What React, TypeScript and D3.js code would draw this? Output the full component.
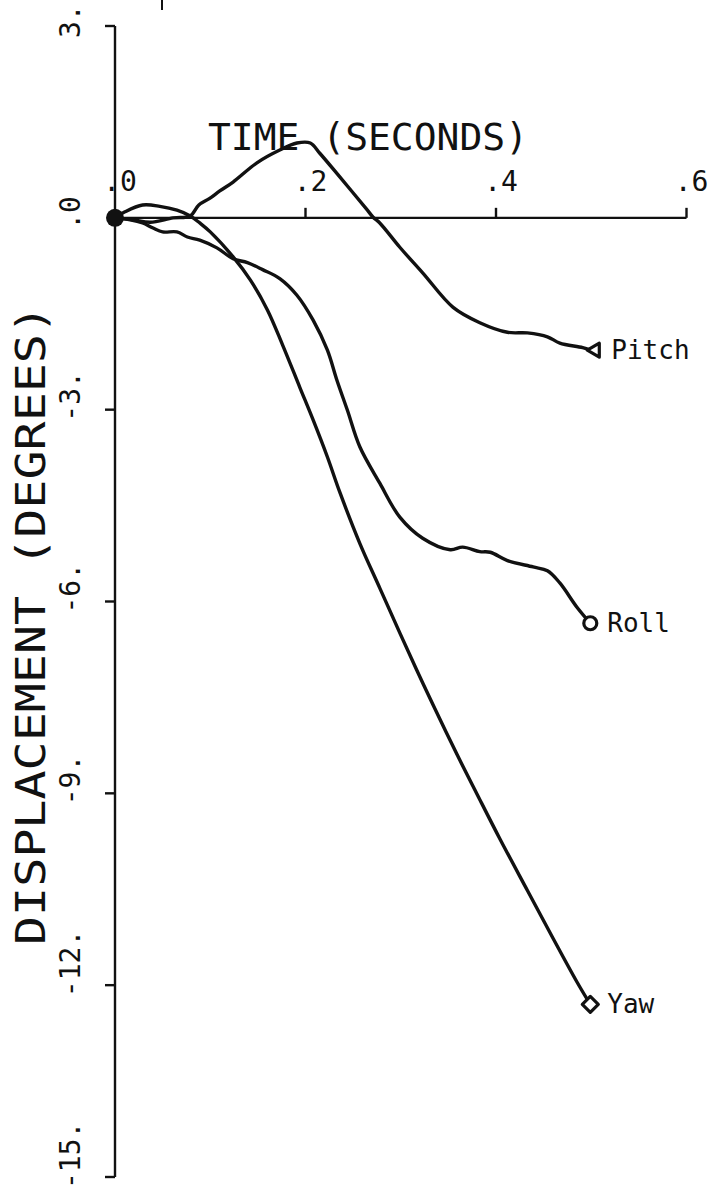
import React from "react";
import * as d3 from "d3";

const W = 712;
const H = 1195;

const xTicks = [0, 0.2, 0.4, 0.6];
const xTickLabels = [".0", ".2", ".4", ".6"];
const yTicks = [3, 0, -3, -6, -9, -12, -15];
const yTickLabels = ["3.", ".0", "-3.", "-6.", "-9.", "-12.", "-15."];

const pitchT = [0, 0.019, 0.037, 0.061, 0.079, 0.088, 0.099, 0.11, 0.124, 0.149, 0.173, 0.191, 0.205, 0.215, 0.236, 0.265, 0.271, 0.278, 0.299, 0.323, 0.355, 0.383, 0.412, 0.433, 0.454, 0.467, 0.491, 0.499];
const pitchV = [0, -0.03, -0.07, 0, 0.03, 0.2, 0.3, 0.42, 0.56, 0.86, 1.06, 1.17, 1.17, 1.01, 0.64, 0.12, 0.01, -0.08, -0.46, -0.86, -1.4, -1.64, -1.79, -1.8, -1.86, -1.96, -2.03, -2.07];

const rollT = [0, 0.016, 0.029, 0.04, 0.05, 0.065, 0.076, 0.089, 0.107, 0.124, 0.139, 0.155, 0.173, 0.191, 0.208, 0.223, 0.233, 0.244, 0.257, 0.278, 0.299, 0.323, 0.352, 0.365, 0.383, 0.394, 0.412, 0.439, 0.454, 0.467, 0.485, 0.499];
const rollV = [0, -0.03, -0.08, -0.16, -0.22, -0.22, -0.3, -0.35, -0.47, -0.64, -0.7, -0.81, -0.95, -1.21, -1.6, -2.07, -2.54, -3.01, -3.58, -4.15, -4.68, -5.01, -5.19, -5.15, -5.22, -5.23, -5.36, -5.46, -5.52, -5.71, -6.09, -6.34];

const yawT = [0, 0.01, 0.029, 0.047, 0.065, 0.079, 0.089, 0.1, 0.124, 0.142, 0.16, 0.176, 0.194, 0.208, 0.223, 0.236, 0.257, 0.278, 0.299, 0.317, 0.334, 0.359, 0.38, 0.404, 0.433, 0.46, 0.485, 0.499];
const yawV = [0, 0.09, 0.2, 0.18, 0.12, 0.03, -0.08, -0.22, -0.61, -0.97, -1.44, -1.99, -2.65, -3.16, -3.74, -4.29, -5.09, -5.79, -6.49, -7.08, -7.62, -8.39, -9.01, -9.71, -10.52, -11.27, -11.95, -12.3];

const seriesNames = ["Pitch", "Roll", "Yaw"];

const FONT = "'DejaVu Sans Mono', 'Liberation Mono', monospace";
const INK = "#111";

export default function App() {
  const x = d3.scaleLinear().domain([0, 0.6]).range([115, 686.5]);
  const y = d3.scaleLinear().domain([3, -15]).range([26, 1177]);

  const line = d3
    .line<[number, number]>()
    .x((d) => x(d[0]))
    .y((d) => y(d[1]))
    .curve(d3.curveCatmullRom.alpha(0.5));

  const series = [
    { name: seriesNames[0], t: pitchT, v: pitchV },
    { name: seriesNames[1], t: rollT, v: rollV },
    { name: seriesNames[2], t: yawT, v: yawV },
  ];

  const marker = (name: string, cx: number, cy: number) => {
    if (name === "Pitch") {
      return (
        <path
          d={`M${cx - 7},${cy} L${cx + 5},${cy - 7} L${cx + 5},${cy + 7} Z`}
          fill="white"
          stroke={INK}
          strokeWidth={3.2}
          strokeLinejoin="round"
        />
      );
    }
    if (name === "Roll") {
      return <circle cx={cx} cy={cy} r={6.5} fill="white" stroke={INK} strokeWidth={3.2} />;
    }
    return (
      <path
        d={`M${cx},${cy - 8} L${cx + 8},${cy} L${cx},${cy + 8} L${cx - 8},${cy} Z`}
        fill="white"
        stroke={INK}
        strokeWidth={3.2}
        strokeLinejoin="round"
      />
    );
  };

  return (
    <svg
      width={W}
      height={H}
      viewBox={`0 0 ${W} ${H}`}
      style={{ position: "absolute", left: 0, top: 0, background: "white", display: "block" }}
    >
      <rect x={0} y={0} width={W} height={H} fill="white" />
      {/* stray plotter mark */}
      <line x1={162} y1={0} x2={162} y2={10} stroke={INK} strokeWidth={2} />

      {/* y axis */}
      <line x1={x(0)} y1={y(3)} x2={x(0)} y2={y(-15)} stroke={INK} strokeWidth={2.4} />
      {yTicks.map((v, i) => (
        <g key={"yt" + i}>
          {v !== 0 && (
            <line x1={x(0) - 10} y1={y(v)} x2={x(0)} y2={y(v)} stroke={INK} strokeWidth={2.4} />
          )}
          <text
            transform={`translate(80,${y(v) + 12}) rotate(-90)`}
            textAnchor="start"
            fontFamily={FONT}
            fontSize={28}
            fill={INK}
          >
            {yTickLabels[i]}
          </text>
        </g>
      ))}

      {/* x axis */}
      <line x1={x(0)} y1={y(0)} x2={x(0.6)} y2={y(0)} stroke={INK} strokeWidth={2.2} />
      {xTicks.map((t, i) => (
        <g key={"xt" + i}>
          {t !== 0 && (
            <line x1={x(t)} y1={y(0) - 10} x2={x(t)} y2={y(0)} stroke={INK} strokeWidth={2.4} />
          )}
          <text
            x={x(t) + 5}
            y={191}
            textAnchor="middle"
            fontFamily={FONT}
            fontSize={28}
            fill={INK}
          >
            {xTickLabels[i]}
          </text>
        </g>
      ))}

      {/* axis titles */}
      <text
        x={208}
        y={150}
        fontFamily={FONT}
        fontSize={37}
        fill={INK}
        textLength={320}
        lengthAdjust="spacingAndGlyphs"
      >
        TIME (SECONDS)
      </text>
      <text
        transform={`translate(45,625) rotate(-90)`}
        textAnchor="middle"
        fontFamily={FONT}
        fontSize={40}
        fill={INK}
        textLength={640}
        lengthAdjust="spacingAndGlyphs"
      >
        DISPLACEMENT (DEGREES)
      </text>

      {/* series */}
      {series.map((s) => {
        const pts: [number, number][] = s.t.map((t, i) => [t, s.v[i]]);
        const last = pts[pts.length - 1];
        const cx = x(last[0]) + (s.name === "Pitch" ? 4 : 0);
        const cy = y(last[1]);
        return (
          <g key={s.name}>
            <path d={line(pts) || ""} fill="none" stroke={INK} strokeWidth={3.4} strokeLinejoin="round" />
            {marker(s.name, cx, cy)}
            <text
              x={cx + 17}
              y={cy + 9}
              fontFamily={FONT}
              fontSize={26}
              fill={INK}
            >
              {s.name}
            </text>
          </g>
        );
      })}

      {/* origin blob */}
      <circle cx={x(0)} cy={y(0)} r={9} fill={INK} />
    </svg>
  );
}
